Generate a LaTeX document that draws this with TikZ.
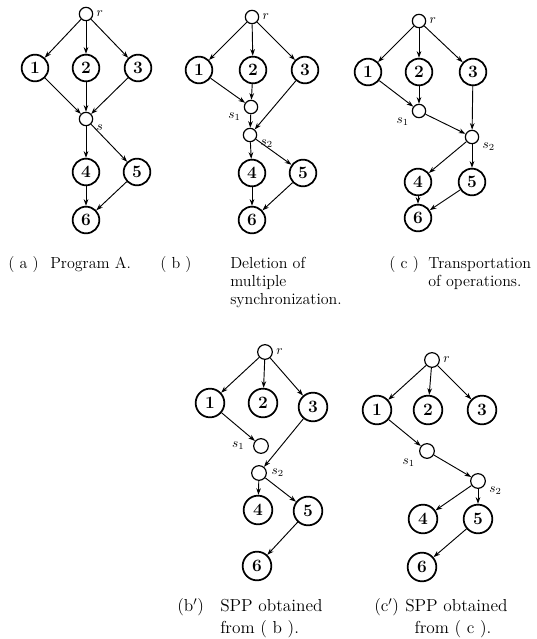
\documentclass[tikz,border=0pt]{standalone}
\usepackage{amsmath}
\usetikzlibrary{arrows.meta}
\tikzset{task/.style={circle,draw,line width=1.3pt,minimum size=20pt,inner sep=0pt,
   font=\fontsize{13}{13}\selectfont\bfseries},
 tasklg/.style={task,minimum size=21.5pt},
 sync/.style={circle,draw,line width=0.9pt,minimum size=10pt,inner sep=0pt},
 synclg/.style={sync,minimum size=11pt},
 arc/.style={draw,line width=0.7pt,-{Stealth[length=5pt,width=3.5pt]}},
 lbl/.style={font=\fontsize{10}{10}\selectfont},
 captext/.style={anchor=base west,inner sep=0pt,align=left,font=\fontsize{12}{13.5}\selectfont},
 captextbig/.style={anchor=base west,inner sep=0pt,align=left,font=\fontsize{13}{16.5}\selectfont},
 }

\begin{document}
\begin{tikzpicture}[x=0.75pt,y=-0.75pt]
    \useasboundingbox (0,0) rectangle (536,639);
    % (a) program A
    \node[sync,label={[lbl,label distance=-1pt]right:$r$}] (ar) at (86,14) {};
    \node[task] (a1) at (35,68) {1};
    \node[task] (a2) at (86,68) {2};
    \node[task] (a3) at (138,68) {3};
    \node[sync,label={[lbl,label distance=-1pt]-10:$s$}] (as) at (86,119) {};
    \node[task] (a4) at (86,172) {4};
    \node[task] (a5) at (137,172) {5};
    \node[task] (a6) at (86,220) {6};
    \foreach \u/\v in {ar/a1,ar/a2,ar/a3,a1/as,a2/as,a3/as,as/a4,as/a5,a4/a6,a5/a6}
        \draw[arc] (\u) -- (\v);
    % (b) deletion of multiple synchronization
    \node[sync,label={[lbl,label distance=-1pt]right:$r$}] (br) at (252,17) {};
    \node[task] (b1) at (199,70) {1};
    \node[task] (b2) at (253,70) {2};
    \node[task] (b3) at (305,70) {3};
    \node[sync,label={[lbl,label distance=-1pt]195:$s_1$}] (bs1) at (251,107) {};
    \node[sync,label={[lbl,label distance=-1pt]-5:$s_2$}] (bs2) at (250,135) {};
    \node[task] (b4) at (252,173) {4};
    \node[task] (b5) at (303,173) {5};
    \node[task] (b6) at (252,220) {6};
    \foreach \u/\v in {br/b1,br/b2,br/b3,b1/bs1,b2/bs1,bs1/bs2,b3/bs2,bs2/b4,bs2/b5,b4/b6,b5/b6}
        \draw[arc] (\u) -- (\v);
    % (c) transportation of operations
    \node[sync,label={[lbl,label distance=-1pt]right:$r$}] (cr) at (419,21) {};
    \node[task] (c1) at (368,72) {1};
    \node[task] (c2) at (419,72) {2};
    \node[task] (c3) at (473,72) {3};
    \node[sync,label={[lbl,label distance=-1pt]205:$s_1$}] (cs1) at (419,111) {};
    \node[sync,label={[lbl,label distance=-1pt]-12:$s_2$}] (cs2) at (472,137) {};
    \node[task] (c4) at (418,182) {4};
    \node[task] (c5) at (472,182) {5};
    \node[task] (c6) at (418,218) {6};
    \foreach \u/\v in {cr/c1,cr/c2,cr/c3,c1/cs1,c2/cs1,cs1/cs2,c3/cs2,cs2/c4,cs2/c5,c4/c6,c5/c6}
        \draw[arc] (\u) -- (\v);
    % captions of the upper row (base of a multi-line node is its last line)
    \node[captext] (capa) at (8,268) {( a )};
    \node[captext] (capatxt) at (50,268) {Program A.};
    \node[captext] (capb) at (160,268) {( b )};
    \node[captext] (capbtxt) at (230,304) {Deletion of\\multiple\\synchronization.};
    \node[captext] (capc) at (389,268) {( c )};
    \node[captext] (capctxt) at (428,286) {Transportation\\of operations.};
    % (b') SPP obtained from (b)
    \node[synclg,label={[lbl,label distance=-1pt]right:$r$}] (dr) at (265,352) {};
    \node[tasklg] (d1) at (210,403) {1};
    \node[tasklg] (d2) at (263,403) {2};
    \node[tasklg] (d3) at (313,407) {3};
    \node[synclg,label={[lbl,label distance=3pt]left:$s_1$}] (ds1) at (261,446) {};
    \node[synclg,label={[lbl,label distance=0pt]right:$s_2$}] (ds2) at (259,473) {};
    \node[tasklg] (d4) at (258,510) {4};
    \node[tasklg] (d5) at (308,511) {5};
    \node[tasklg] (d6) at (257,566) {6};
    \foreach \u/\v in {dr/d1,dr/d2,dr/d3,d1/ds1,d3/ds2,ds2/d4,ds2/d5,d5/d6}
        \draw[arc] (\u) -- (\v);
    % (c') SPP obtained from (c)
    \node[synclg,label={[lbl,label distance=-1pt]right:$r$}] (er) at (432,360) {};
    \node[tasklg] (e1) at (377,410) {1};
    \node[tasklg] (e2) at (428,410) {2};
    \node[tasklg] (e3) at (482,410) {3};
    \node[synclg,label={[lbl,label distance=0pt]200:$s_1$}] (es1) at (427,451) {};
    \node[synclg,label={[lbl,label distance=-1pt]-5:$s_2$}] (es2) at (478,481) {};
    \node[tasklg] (e4) at (423,519) {4};
    \node[tasklg] (e5) at (478,519) {5};
    \node[tasklg] (e6) at (422,567) {6};
    \foreach \u/\v in {er/e1,er/e2,er/e3,e1/es1,es1/es2,es2/e4,es2/e5,e5/e6}
        \draw[arc] (\u) -- (\v);
    % captions of the lower row
    \node[captextbig] (capd) at (177,611) {(b$'$)};
    \node[captextbig] (capdtxt) at (220,633) {SPP obtained\\from ( b ).};
    \node[captextbig] (cape) at (374,611) {(c$'$)};
    \node[captextbig] (capetxt) at (405,633) {SPP obtained\\\hspace*{7pt}from ( c ).};
\end{tikzpicture}
\end{document}
